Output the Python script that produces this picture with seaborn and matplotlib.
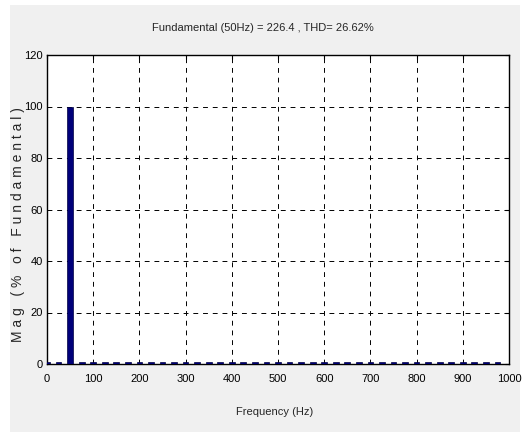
import matplotlib
matplotlib.use("Agg")
import matplotlib.pyplot as plt
from matplotlib.patches import Rectangle
import seaborn as sns
import numpy as np
import pandas as pd

# Harmonic spectrum (% of fundamental), 25 Hz spacing
freqs = [0, 25, 50, 75, 100, 125, 150, 175, 200, 225, 250, 275, 300, 325, 350, 375,
         400, 425, 450, 475, 500, 525, 550, 575, 600, 625, 650, 675, 700, 725, 750,
         775, 800, 825, 850, 875, 900, 925, 950, 975]
mags = [0.6, 0.6, 100.0, 0.6, 0.6, 0.6, 0.6, 0.6, 0.6, 0.6, 0.6, 0.6, 0.6, 0.6, 0.6, 0.6,
        0.6, 0.6, 0.6, 0.6, 0.6, 0.6, 0.6, 0.6, 0.6, 0.6, 0.6, 0.6, 0.6, 0.6, 0.6,
        0.6, 0.6, 0.6, 0.6, 0.6, 0.6, 0.6, 0.6, 0.6]
xticks = [0, 100, 200, 300, 400, 500, 600, 700, 800, 900, 1000]
yticks = [0, 20, 40, 60, 80, 100, 120]
title = "Fundamental (50Hz) = 226.4 , THD= 26.62%"
xlabel = "Frequency (Hz)"
ylabel = "M a g   ( %   o f   F u n d a m e n t a l )"

sns.set_style("white")
font = ['Liberation Sans', 'DejaVu Sans']
plt.rcParams['font.family'] = font

W, H = 524, 432
fig = plt.figure(figsize=(W / 100, H / 100), dpi=100, facecolor="white")
fig.patches.append(Rectangle((10 / W, 0), 510 / W, 1 - 5 / H, transform=fig.transFigure,
                             facecolor="#f0f0f0", edgecolor="none", zorder=-10))

left, right, top, bottom = 47, 509, 55, 364
ax = fig.add_axes([left / W, (H - bottom) / H, (right - left) / W, (bottom - top) / H])
ax.set_facecolor("white")

df = pd.DataFrame({"freq": freqs, "mag": mags})
sns.barplot(data=df, x="freq", y="mag", native_scale=True, width=0.5,
            color="#00007a", saturation=1, edgecolor="#000040", linewidth=0.5, ax=ax, zorder=3)

ax.set_xlim(0, 1000)
ax.set_ylim(0, 120)
ax.set_xticks(xticks)
ax.set_yticks(yticks)
ax.set_xticklabels([str(t) for t in xticks])
ax.set_yticklabels([str(t) for t in yticks])
ax.tick_params(axis="both", direction="in", length=3, width=0.8, labelsize=8,
               colors="black", top=True, right=True)
ax.tick_params(axis="x", pad=7)
ax.tick_params(axis="y", pad=3)
ax.grid(True, color="black", linestyle=(0, (5, 5)), linewidth=0.7, zorder=1)
ax.set_axisbelow(True)
for s in ax.spines.values():
    s.set_color("black")
    s.set_linewidth(1.0)
    s.set_visible(True)

ax.set_xlabel("")
ax.set_ylabel("")
fig.text(275 / W, 1 - 412 / H, xlabel, ha="center", va="center", fontsize=8)
fig.text(263 / W, 1 - 28 / H, title, ha="center", va="center", fontsize=8)
fig.text(18 / W, 1 - 225 / H, ylabel, ha="center", va="center", rotation=90, fontsize=10)

fig.savefig("out.png", dpi=100, facecolor="white")
